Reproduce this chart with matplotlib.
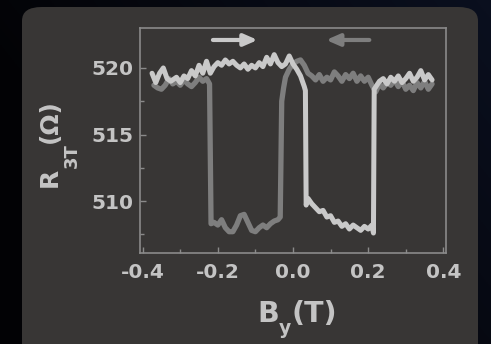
import numpy as np
import matplotlib.pyplot as plt
from matplotlib.patches import FancyBboxPatch
from matplotlib.transforms import offset_copy

# Sweep up (light trace), B in T, R in Ohm
b_up = [-0.375, -0.365, -0.355, -0.345, -0.335, -0.325, -0.31, -0.30, -0.29, -0.28,
        -0.27, -0.26, -0.25, -0.24, -0.23, -0.22, -0.21, -0.20, -0.19, -0.18,
        -0.17, -0.16, -0.15, -0.14, -0.13, -0.12, -0.11, -0.10, -0.09, -0.08,
        -0.07, -0.06, -0.05, -0.04, -0.03, -0.02, -0.01, 0.00, 0.01, 0.02,
        0.03, 0.033, 0.035, 0.04, 0.05, 0.06, 0.07, 0.08, 0.09, 0.10,
        0.11, 0.12, 0.13, 0.14, 0.15, 0.16, 0.17, 0.18, 0.19, 0.20,
        0.21, 0.214, 0.216, 0.23, 0.24, 0.25, 0.26, 0.27, 0.28, 0.29,
        0.30, 0.31, 0.32, 0.33, 0.34, 0.35, 0.36, 0.37]
r_up = [519.6, 518.9, 519.6, 520.0, 519.2, 519.0, 519.3, 518.9, 519.4, 519.2,
        519.8, 519.4, 520.2, 519.6, 520.5, 519.6, 520.1, 520.4, 520.2, 520.6,
        520.3, 520.5, 520.2, 520.0, 520.3, 519.9, 520.2, 520.0, 520.4, 520.1,
        520.8, 520.3, 521.0, 520.4, 520.1, 520.3, 520.9, 520.3, 519.9, 519.4,
        518.6, 518.3, 509.7, 510.2, 509.8, 509.5, 509.2, 509.3, 508.8, 508.9,
        508.4, 508.5, 508.1, 508.3, 507.9, 508.2, 508.0, 507.8, 508.1, 507.9,
        508.2, 507.6, 518.4, 519.0, 519.2, 518.8, 519.3, 519.0, 519.4, 518.9,
        519.2, 519.6, 519.0, 519.3, 519.8, 519.1, 519.5, 519.1]

# Sweep down (dark trace)
b_down = [0.37, 0.36, 0.35, 0.34, 0.33, 0.32, 0.31, 0.30, 0.29, 0.28,
          0.27, 0.26, 0.25, 0.24, 0.23, 0.22, 0.21, 0.20, 0.19, 0.18,
          0.17, 0.16, 0.15, 0.14, 0.13, 0.12, 0.11, 0.10, 0.09, 0.08,
          0.07, 0.06, 0.05, 0.04, 0.03, 0.02, 0.01, 0.00, -0.01, -0.02,
          -0.025, -0.03, -0.034, -0.04, -0.05, -0.06, -0.07, -0.08, -0.09, -0.10,
          -0.11, -0.12, -0.13, -0.14, -0.15, -0.16, -0.17, -0.18, -0.19, -0.20,
          -0.21, -0.218, -0.222, -0.23, -0.24, -0.25, -0.26, -0.27, -0.28, -0.29,
          -0.30, -0.31, -0.32, -0.33, -0.34, -0.35, -0.36, -0.37]
r_down = [518.8, 518.4, 519.0, 518.5, 518.9, 518.3, 518.7, 518.4, 519.0, 518.6,
          519.1, 518.7, 518.9, 518.5, 518.8, 518.2, 518.7, 519.3, 519.0, 519.4,
          519.0, 519.6, 519.2, 519.5, 519.0, 519.4, 519.7, 519.1, 519.3, 519.0,
          519.5, 519.1, 519.4, 519.6, 520.2, 520.6, 520.5, 520.3, 519.9, 519.3,
          518.5, 517.5, 508.8, 508.6, 508.5, 508.3, 508.0, 508.2, 508.0, 507.7,
          507.8, 508.4, 509.0, 508.9, 508.2, 507.7, 507.7, 508.0, 508.6, 508.2,
          508.4, 508.3, 518.8, 519.2, 519.0, 519.3, 518.9, 518.6, 518.8, 519.1,
          518.7, 519.0, 518.8, 519.2, 518.7, 518.4, 518.5, 518.7]

x_ticks = [-0.4, -0.2, 0.0, 0.2, 0.4]
y_ticks = [510, 515, 520]

LIGHT = '#c9c9c9'
DARK = '#7e7e7e'
TXT = '#c4c4c4'
FONT = ['DejaVu Sans']

plt.rcParams['font.family'] = FONT
plt.rcParams['font.weight'] = 'bold'

fig = plt.figure(figsize=(4.91, 3.44), dpi=100)

# dark navy backdrop
bg = fig.add_axes([0, 0, 1, 1], zorder=-10)
GX, GY = np.meshgrid(np.linspace(0, 1, 200), np.linspace(0, 1, 200))
t = np.clip(0.1 + 0.9 * GX - 0.5 * GY, 0, 1)
img = np.zeros((200, 200, 3))
img[..., 0] = 0.01 + 0.03 * t
img[..., 1] = 0.01 + 0.05 * t
img[..., 2] = 0.02 + 0.10 * t
bg.imshow(img, extent=[0, 1, 0, 1], aspect='auto', origin='upper')
bg.axis('off')

box = FancyBboxPatch((22 / 491, -0.1), 456 / 491, (344 - 7) / 344 + 0.1,
                     boxstyle='round,pad=0,rounding_size=0.04',
                     transform=fig.transFigure, facecolor='#383635',
                     edgecolor='none', zorder=-5)
fig.patches.append(box)

ax = fig.add_axes([140 / 491, 91 / 344, 306 / 491, 225 / 344])
ax.set_facecolor('none')

ax.plot(b_down, r_down, color=DARK, lw=3.8, solid_joinstyle='round', solid_capstyle='round')
ax.plot(b_up, r_up, color=LIGHT, lw=3.6, solid_joinstyle='round', solid_capstyle='round')

# sweep direction arrows
ax.annotate('', xy=(-0.094, 522.1), xytext=(-0.213, 522.1),
            arrowprops=dict(arrowstyle='-|>,head_length=0.8,head_width=0.35',
                            lw=3, color=LIGHT, shrinkA=0, shrinkB=0))
ax.annotate('', xy=(0.088, 522.1), xytext=(0.203, 522.1),
            arrowprops=dict(arrowstyle='-|>,head_length=0.8,head_width=0.35',
                            lw=3, color=DARK, shrinkA=0, shrinkB=0))

ax.set_xlim(-0.407, 0.407)
ax.set_ylim(506.1, 523.0)
ax.set_xticks(x_ticks)
ax.set_xticklabels([f'{v:.1f}' for v in x_ticks])
ax.set_yticks(y_ticks)
ax.set_xticks([-0.3, -0.1, 0.1, 0.3], minor=True)
ax.set_yticks([507.5, 512.5, 517.5], minor=True)

for s in ax.spines.values():
    s.set_color('#8a8a8a')
    s.set_linewidth(1.2)
ax.tick_params(which='both', direction='in', color='#8a8a8a', width=1.0,
               labelcolor=TXT, labelsize=14.5)
ax.tick_params(which='major', length=4)
ax.tick_params(which='minor', length=3)
ax.tick_params(axis='y', pad=5)
ax.tick_params(axis='x', pad=7)


def chain_text(pieces, x, y, rotation=0):
    # pieces: (text, fontsize, shift in points below the baseline)
    renderer = fig.canvas.get_renderer()
    tr = fig.transFigure
    adv = 0.0
    for s, size, shift in pieces:
        if rotation == 90:
            t = offset_copy(tr, fig=fig, x=shift, y=adv, units='points')
        else:
            t = offset_copy(tr, fig=fig, x=adv, y=-shift, units='points')
        txt = fig.text(x, y, s, transform=t, rotation=rotation, color=TXT,
                       fontsize=size, fontweight='bold', ha='left', va='baseline',
                       rotation_mode='anchor')
        ext = txt.get_window_extent(renderer)
        adv += (ext.height if rotation == 90 else ext.width) * 72 / fig.dpi


chain_text([('R', 18, 0), ('3T', 13, 14), ('(Ω)', 18, 0)], 57 / 491, 1 - 187 / 344, rotation=90)
chain_text([('B', 20.5, 0), ('y', 13.5, 9), ('(T)', 20.5, 0)], 257 / 491, 1 - 322 / 344)

fig.savefig('out.png', dpi=100, facecolor=fig.get_facecolor())
